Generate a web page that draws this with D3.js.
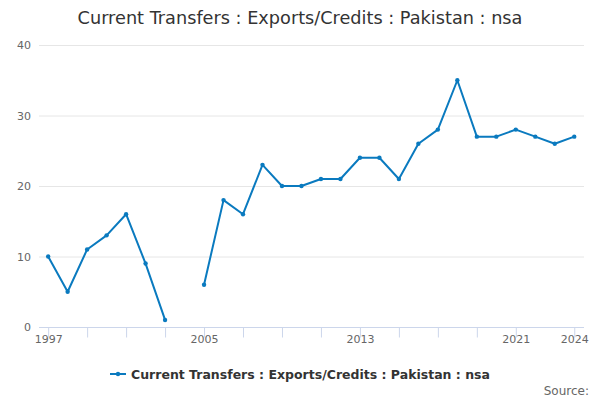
<!DOCTYPE html>
<html>
<head>
<meta charset="utf-8">
<script src="https://cdn.jsdelivr.net/npm/d3@7"></script>
<style>
  body { margin: 0; background: #fff; }
  svg { font-family: "DejaVu Sans", sans-serif; }
</style>
</head>
<body>
<div id="chart"></div>
<script>
// data (null = no value that year)
var years = [1997, 1998, 1999, 2000, 2001, 2002, 2003, 2004, 2005, 2006, 2007, 2008, 2009, 2010,
             2011, 2012, 2013, 2014, 2015, 2016, 2017, 2018, 2019, 2020, 2021, 2022, 2023, 2024];
var values = [10, 5, 11, 13, 16, 9, 1, null, 6, 18, 16, 23, 20, 20,
              21, 21, 24, 24, 21, 26, 28, 35, 27, 27, 28, 27, 26, 27];
var yTicks = [0, 10, 20, 30, 40];
var xTickYears = [1997, 1999, 2001, 2003, 2005, 2007, 2009, 2011, 2013, 2015, 2017, 2019, 2021, 2024];
var xLabelYears = [1997, 2005, 2013, 2021, 2024];
var seriesName = "Current Transfers : Exports/Credits : Pakistan : nsa";

var svgWidth = 600, svgHeight = 400;
var margin = { top: 45, right: 16, bottom: 73, left: 39 };
var width = svgWidth - margin.left - margin.right;
var height = svgHeight - margin.top - margin.bottom;
var lineColor = "#0a7abf";

var svg = d3.select("#chart").append("svg")
    .attr("width", svgWidth)
    .attr("height", svgHeight);

// title
svg.append("text")
    .attr("x", svgWidth / 2)
    .attr("y", 24)
    .attr("text-anchor", "middle")
    .attr("fill", "#333")
    .style("font-size", "17.7px")
    .text(seriesName);

var chartGroup = svg.append("g")
    .attr("transform", `translate(${margin.left}, ${margin.top})`);

var xScale = d3.scaleLinear()
    .domain([1996.53, 2024.5])
    .range([0, width]);

var yScale = d3.scaleLinear()
    .domain([0, 40])
    .range([height, 0]);

// gridlines
chartGroup.append("g")
    .selectAll("line")
    .data(yTicks.filter(d => d > 0))
    .enter()
    .append("line")
    .attr("x1", 0)
    .attr("x2", width)
    .attr("y1", d => yScale(d) + 0.5)
    .attr("y2", d => yScale(d) + 0.5)
    .attr("stroke", "#e6e6e6");

// y axis labels
var leftAxis = d3.axisLeft(yScale).tickValues(yTicks).tickSize(0).tickPadding(8);
var yAxis = chartGroup.append("g").call(leftAxis);
yAxis.select(".domain").remove();
yAxis.selectAll("text")
    .attr("fill", "#666")
    .style("font-size", "11px")
    .style("font-family", "DejaVu Sans, sans-serif");

// x axis
var bottomAxis = d3.axisBottom(xScale)
    .tickValues(xTickYears)
    .tickSize(10)
    .tickFormat(d => xLabelYears.indexOf(d) >= 0 ? d : "");
var xAxis = chartGroup.append("g")
    .attr("transform", `translate(0, ${height + 0.5})`)
    .call(bottomAxis);
xAxis.select(".domain").attr("stroke", "#ccd6eb").attr("d", `M0,0H${width}`);
xAxis.selectAll(".tick line").attr("stroke", "#ccd6eb");
xAxis.selectAll("text")
    .attr("fill", "#666")
    .attr("dy", "0.2em")
    .style("font-size", "11px")
    .style("font-family", "DejaVu Sans, sans-serif");

// series line
var points = years.map((y, i) => ({ year: y, value: values[i] }));
var line = d3.line()
    .defined(d => d.value !== null)
    .x(d => xScale(d.year))
    .y(d => yScale(d.value));

chartGroup.append("path")
    .datum(points)
    .attr("d", line)
    .attr("fill", "none")
    .attr("stroke", lineColor)
    .attr("stroke-width", 2)
    .attr("stroke-linejoin", "round");

chartGroup.append("g")
    .selectAll("circle")
    .data(points.filter(d => d.value !== null))
    .enter()
    .append("circle")
    .attr("cx", d => xScale(d.year))
    .attr("cy", d => yScale(d.value))
    .attr("r", 2.2)
    .attr("fill", lineColor);

// legend
var legend = svg.append("g")
    .attr("transform", "translate(110, 374)");
legend.append("line")
    .attr("x1", 0).attr("x2", 16)
    .attr("y1", 0).attr("y2", 0)
    .attr("stroke", lineColor)
    .attr("stroke-width", 2);
legend.append("circle")
    .attr("cx", 8).attr("cy", 0).attr("r", 2.2)
    .attr("fill", lineColor);
legend.append("text")
    .attr("x", 21)
    .attr("y", 4.5)
    .attr("fill", "#333")
    .style("font-size", "12.5px")
    .style("font-weight", "bold")
    .text(seriesName);

// source
svg.append("text")
    .attr("x", 589)
    .attr("y", 395)
    .attr("text-anchor", "end")
    .attr("fill", "#666")
    .style("font-size", "12px")
    .text("Source:");
</script>
</body>
</html>
